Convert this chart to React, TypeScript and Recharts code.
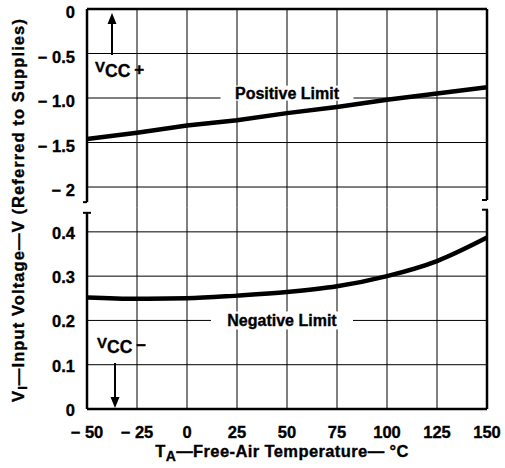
import React from "react";
import {
  LineChart,
  Line,
  XAxis,
  YAxis,
  CartesianGrid,
  ReferenceLine,
  ReferenceDot,
} from "recharts";

// free-air temperature, degC
const temps = [-50, -25, 0, 25, 50, 75, 100, 125, 150];
// input voltage limits referred to the supplies, V
const positiveLimit = [-1.46, -1.39, -1.31, -1.25, -1.17, -1.1, -1.02, -0.95, -0.88];
const negativeLimit = [0.252, 0.249, 0.25, 0.256, 0.264, 0.277, 0.3, 0.334, 0.387];

const tempTicks = [-50, -25, 0, 25, 50, 75, 100, 125, 150];
const innerTemps = [-25, 0, 25, 50, 75, 100, 125];
const upperTicks = [0, -0.5, -1, -1.5, -2];
const upperLabels = ["0", "\u2212 0.5", "\u2212 1.0", "\u2212 1.5", "\u2212 2"];
const lowerTicks = [0.4, 0.3, 0.2, 0.1, 0];
const lowerLabels = ["0.4", "0.3", "0.2", "0.1", "0"];

const FONT = '"Liberation Sans", Arial, Helvetica, sans-serif';
const FS = 16.5;
// slight outline so the bold type looks as heavy as the printed sheet
const ink = { fill: "#000", stroke: "#000", strokeWidth: 0.35 };

const upperData = temps.map((t, i) => ({ t, v: positiveLimit[i] }));
const lowerData = temps.map((t, i) => ({ t, v: negativeLimit[i] }));

const fmtTemp = (t: number) => (t < 0 ? "\u2212 " + Math.abs(t) : String(t));

const yTick = (labels: string[], ticks: number[], dy: number) => (p: any) => (
  <text
    x={p.x}
    y={p.y + dy}
    textAnchor="end"
    fontFamily={FONT}
    fontWeight="bold"
    fontSize={FS}
    {...ink}
  >
    {labels[ticks.indexOf(p.payload.value)]}
  </text>
);

const xTick = (p: any) => (
  <text
    x={p.x}
    y={p.y + 29}
    textAnchor="middle"
    fontFamily={FONT}
    fontWeight="bold"
    fontSize={FS}
    {...ink}
  >
    {fmtTemp(p.payload.value)}
  </text>
);

// boxed text sitting on a grid line
const limitLabel = (text: string, w: number, h: number) => (p: any) => (
  <g>
    <rect x={p.cx - w / 2} y={p.cy - h / 2} width={w} height={h} fill="#fff" />
    <text
      x={p.cx}
      y={p.cy + 6}
      textAnchor="middle"
      fontFamily={FONT}
      fontWeight="bold"
      fontSize={FS - 0.5}
      {...ink}
    >
      {text}
    </text>
  </g>
);

const vccLabel = (sign: string) => (p: any) => (
  <text x={p.cx} y={p.cy} fontFamily={FONT} fontWeight="bold" {...ink}>
    <tspan fontSize={15}>V</tspan>
    <tspan fontSize={17.5} dy={5}>CC</tspan>
    <tspan fontSize={17} dx={4} dy={-2}>{sign}</tspan>
  </text>
);

const arrow = (dir: "up" | "down", len: number) => (p: any) => {
  const s = dir === "up" ? 1 : -1;
  const { cx, cy } = p;
  return (
    <g>
      <line x1={cx} y1={cy + s * 8} x2={cx} y2={cy + s * len} stroke="#000" strokeWidth={2} />
      <polygon
        points={`${cx - 4.5},${cy + s * 11} ${cx + 4.5},${cy + s * 11} ${cx},${cy}`}
        fill="#000"
      />
    </g>
  );
};

const frame = { stroke: "#000", strokeWidth: 2.5, ifOverflow: "visible" as const };

const App = () => {
  return (
    <div
      style={{
        position: "absolute",
        left: 0,
        top: 0,
        width: 505,
        height: 468,
        background: "#fff",
      }}
    >
      {/* lower part: negative limit */}
      <div style={{ position: "absolute", left: 0, top: 207 }}>
        <LineChart
          width={505}
          height={261}
          data={lowerData}
          margin={{ top: 0.5, right: 18, bottom: 0, left: 0 }}
        >
          <CartesianGrid
            stroke="#000"
            strokeWidth={1}
            verticalValues={innerTemps}
            horizontalValues={[0.1, 0.2, 0.3, 0.4]}
          />
          <XAxis
            type="number"
            dataKey="t"
            domain={[-50, 150]}
            ticks={tempTicks}
            interval={0}
            height={59}
            axisLine={false}
            tickLine={false}
            tickSize={0}
            tickMargin={0}
            tick={xTick}
          />
          <YAxis
            type="number"
            domain={[0, 0.455]}
            ticks={lowerTicks}
            interval={0}
            width={87}
            allowDataOverflow
            axisLine={false}
            tickLine={false}
            tickSize={0}
            tickMargin={12}
            tick={yTick(lowerLabels, lowerTicks, 7)}
          />
          <ReferenceDot x={47.5} y={0.2} r={1} shape={limitLabel("Negative Limit", 142, 18)} />
          <ReferenceDot x={-45} y={0.138} r={1} shape={vccLabel("\u2212")} />
          <ReferenceDot x={-36} y={0.002} r={1} shape={arrow("down", 45)} />
          <Line
            type="monotone"
            dataKey="v"
            stroke="#000"
            strokeWidth={4.5}
            dot={false}
            isAnimationActive={false}
          />
          <ReferenceLine y={0} {...frame} />
          <ReferenceLine segment={[{ x: -50, y: 0 }, { x: -50, y: 0.443 }]} {...frame} />
          <ReferenceLine segment={[{ x: -52, y: 0.443 }, { x: -48, y: 0.443 }]} {...frame} strokeWidth={2} />
          <ReferenceLine segment={[{ x: 150, y: 0 }, { x: 150, y: 0.45 }]} {...frame} />
          <ReferenceLine segment={[{ x: 147.5, y: 0.45 }, { x: 150.5, y: 0.45 }]} {...frame} strokeWidth={2} />
        </LineChart>
      </div>

      {/* upper part: positive limit */}
      <div style={{ position: "absolute", left: 0, top: 0 }}>
        <LineChart
          width={505}
          height={208}
          data={upperData}
          margin={{ top: 9, right: 18, bottom: 0.5, left: 0 }}
        >
          <CartesianGrid
            stroke="#000"
            strokeWidth={1}
            verticalValues={innerTemps}
            horizontalValues={[-0.5, -1, -1.5, -2]}
          />
          <XAxis type="number" dataKey="t" domain={[-50, 150]} ticks={tempTicks} hide />
          <YAxis
            type="number"
            domain={[-2.23, 0]}
            ticks={upperTicks}
            interval={0}
            width={87}
            allowDataOverflow
            axisLine={false}
            tickLine={false}
            tickSize={0}
            tickMargin={12}
            tick={yTick(upperLabels, upperTicks, 9)}
          />
          <ReferenceDot x={50} y={-0.945} r={1} shape={limitLabel("Positive Limit", 133, 15)} />
          <ReferenceDot x={-46} y={-0.708} r={1} shape={vccLabel("+")} />
          <ReferenceDot x={-37.5} y={-0.045} r={1} shape={arrow("up", 42)} />
          <Line
            type="linear"
            dataKey="v"
            stroke="#000"
            strokeWidth={4.5}
            dot={false}
            isAnimationActive={false}
          />
          <ReferenceLine y={0} {...frame} />
          <ReferenceLine segment={[{ x: -50, y: 0 }, { x: -50, y: -2.17 }]} {...frame} />
          <ReferenceLine segment={[{ x: -52, y: -2.17 }, { x: -50, y: -2.17 }]} {...frame} strokeWidth={2} />
          <ReferenceLine segment={[{ x: 150, y: 0 }, { x: 150, y: -2.146 }]} {...frame} />
          <ReferenceLine segment={[{ x: 147.5, y: -2.146 }, { x: 150, y: -2.146 }]} {...frame} strokeWidth={2} />
        </LineChart>
      </div>

      {/* axis titles */}
      <svg
        width={505}
        height={468}
        style={{ position: "absolute", left: 0, top: 0, pointerEvents: "none" }}
      >
        <text
          transform="translate(24,210) rotate(-90)"
          textAnchor="middle"
          fontFamily={FONT}
          fontWeight="bold"
          fontSize={FS}
          letterSpacing={1.1}
          {...ink}
        >
          V<tspan fontSize={13} dy={3}>I</tspan>
          <tspan dy={-3}>{"\u2014Input Voltage\u2014V (Referred to Supplies)"}</tspan>
        </text>
        <text
          x={282}
          y={457}
          textAnchor="middle"
          fontFamily={FONT}
          fontWeight="bold"
          fontSize={FS}
          letterSpacing={0.4}
          {...ink}
        >
          T<tspan fontSize={14} dy={4}>A</tspan>
          <tspan dy={-4}>{"\u2014Free-Air Temperature\u2014 \u00b0C"}</tspan>
        </text>
      </svg>
    </div>
  );
};

export default App;
